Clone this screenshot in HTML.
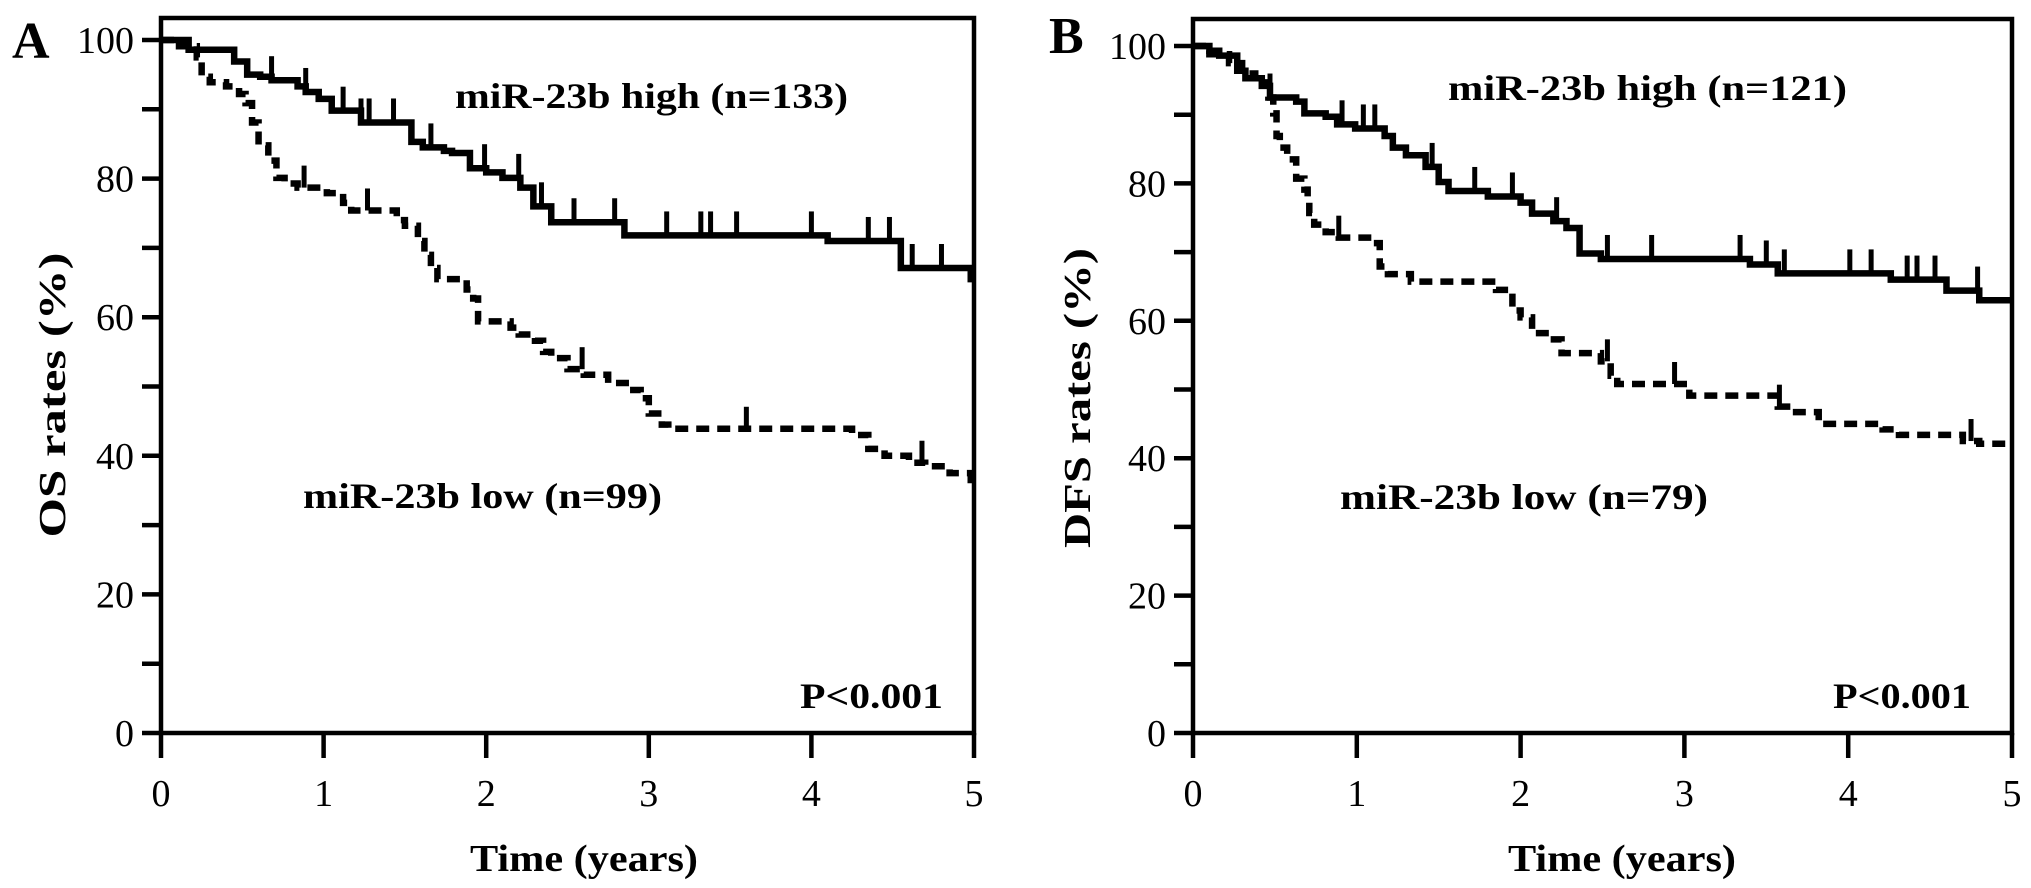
<!DOCTYPE html>
<html><head><meta charset="utf-8"><style>
html,body{margin:0;padding:0;background:#fff;}
svg{display:block;}
text{font-family:"Liberation Serif",serif;fill:#000;}
</style></head><body>
<svg id="chart" width="2031" height="888" viewBox="0 0 2031 888" xmlns="http://www.w3.org/2000/svg">
<g id="panelA"></g>
<g id="panelB"></g>
</svg>
<script>
// Shared tick data
const xTicks = [0, 1, 2, 3, 4, 5];
const yTicksMajor = [0, 20, 40, 60, 80, 100];
const yTicksMinor = [10, 30, 50, 70, 90];

// Panel A (OS) data: step points [time, rate]
const aHighT = [0,0.17,0.23,0.45,0.53,0.61,0.68,0.84,0.89,0.97,1.05,1.12,1.23,1.54,1.61,1.74,1.79,1.90,2.00,2.10,2.21,2.29,2.40,2.85,4.10,4.55,4.98];
const aHighV = [100,98.6,98.6,96.9,95.0,94.7,94.2,93.3,92.5,91.5,89.8,89.8,88.1,85.3,84.5,84.0,83.7,81.5,80.9,80.1,78.7,76,73.7,71.8,71.0,67.1,65.5];
const aHighCens = [0.68,0.89,1.12,1.23,1.28,1.43,1.66,1.99,2.20,2.34,2.54,2.79,3.11,3.32,3.38,3.54,4.0,4.35,4.48,4.62,4.8];
const aLowT = [0,0.09,0.22,0.25,0.30,0.40,0.48,0.52,0.56,0.60,0.66,0.71,0.76,0.84,1.02,1.12,1.17,1.45,1.50,1.58,1.62,1.66,1.70,1.88,1.92,1.95,2.15,2.20,2.30,2.35,2.40,2.50,2.60,2.75,2.88,2.95,3.00,3.08,3.12,4.25,4.35,4.45,4.60,4.70,4.85,4.98];
const aLowV = [100,99.1,97.5,94.7,93.9,93.3,92.2,90.9,88.1,84.8,82.6,80.1,79.3,78.7,77.9,76.5,75.4,74.0,73.2,71.0,69,67.1,65.5,64,62.7,59.4,58.5,57.5,56.6,55,54.1,52.5,51.7,50.5,49.5,48.3,46.1,44.5,43.9,43,41,40,39,38.5,37.5,36.5];
const aLowCens = [0.88,1.27,2.59,3.6,4.68];

// Panel B (DFS) data
const bHighT = [0,0.1,0.16,0.27,0.32,0.42,0.47,0.63,0.68,0.81,0.88,0.99,1.17,1.22,1.30,1.42,1.50,1.56,1.80,2.00,2.07,2.20,2.28,2.36,2.49,3.40,3.57,4.26,4.60,4.80];
const bHighV = [100,99.3,98.6,96.4,95.3,94.2,92.5,91.9,90.2,89.7,88.6,88.0,86.9,85.2,84.1,82.4,80.2,78.9,78.1,77.2,75.6,74.5,73.5,69.8,69.0,68.2,66.9,66.0,64.4,63.0];
const bHighCens = [0.47,0.91,1.04,1.11,1.46,1.72,1.95,2.22,2.53,2.80,3.34,3.50,3.61,4.01,4.14,4.36,4.42,4.53,4.79];
const bLowT = [0,0.1,0.22,0.30,0.38,0.46,0.49,0.51,0.53,0.575,0.63,0.68,0.70,0.71,0.74,0.81,0.89,1.09,1.14,1.19,1.33,1.85,1.95,2.00,2.07,2.18,2.25,2.49,2.55,2.59,3.03,3.57,3.65,3.82,4.21,4.31,4.70,4.80];
const bLowV = [100,98.8,97.5,96,94.7,92.5,90.2,86.9,85.2,83.5,80.7,79.1,77.4,75.7,74.0,72.9,72.1,71.3,67.9,66.8,65.7,64.5,61.5,60.5,58.2,57.3,55.3,54.1,52,50.8,49.1,47.5,46.7,45.0,44.2,43.4,42.5,42.1];
const bLowCens = [0.89,2.53,2.94,3.58,4.75];

const NS = "http://www.w3.org/2000/svg";
function mk(parent, tag, attrs, txt){
  const e = document.createElementNS(NS, tag);
  for (const k in attrs) e.setAttribute(k, attrs[k]);
  if (txt !== undefined) e.textContent = txt;
  parent.appendChild(e);
  return e;
}

function stepPath(T, V, xs, ys){
  let d = "M" + xs(T[0]) + "," + ys(V[0]);
  for (let i = 1; i < T.length; i++){
    d += " H" + xs(T[i]) + " V" + ys(V[i]);
  }
  d += " H" + xs(5);
  return d;
}
function valAt(T, V, t){
  let v = V[0];
  for (let i = 0; i < T.length; i++){ if (T[i] <= t) v = V[i]; }
  return v;
}

function drawPanel(g, cfg){
  const xs = t => cfg.x0 + (cfg.x5 - cfg.x0) * t / 5;
  const ys = v => cfg.y0 - (cfg.y0 - cfg.y100) * v / 100;

  const frame = mk(g, "rect", {x: cfg.x0, y: cfg.top, width: cfg.x5 - cfg.x0, height: cfg.y0 - cfg.top, fill: "none", stroke: "#000", "stroke-width": 4.5});
  
  

  yTicksMajor.concat(yTicksMinor).forEach(v => {
    const l = mk(g, "line", {x1: cfg.x0 - 19, x2: cfg.x0, y1: ys(v), y2: ys(v), stroke: "#000", "stroke-width": 4.5});
    
    
  });
  yTicksMajor.forEach(v => {
    const t = mk(g, "text", {x: cfg.x0 - 27, y: ys(v) + 13, "text-anchor": "end", "font-size": 38}, String(v));
    
    
  });
  xTicks.forEach(v => {
    const l = mk(g, "line", {x1: xs(v), x2: xs(v), y1: cfg.y0, y2: cfg.y0 + 25, stroke: "#000", "stroke-width": 4.5});
    
    
    const t = mk(g, "text", {x: xs(v), y: 806, "text-anchor": "middle", "font-size": 38}, String(v));
    
    
  });

  const xt = mk(g, "text", {x: cfg.xTitleX, y: 871, "text-anchor": "middle", "font-size": 38, "font-weight": "bold", textLength: 228, lengthAdjust: "spacingAndGlyphs"}, "Time (years)");
  
  
  const yt = mk(g, "text", {x: 0, y: 0, "text-anchor": "middle", "font-size": 38, "font-weight": "bold", textLength: cfg.yTitleLen, lengthAdjust: "spacingAndGlyphs", transform: "translate(" + (cfg.yTitleX + 13) + "," + cfg.yTitleY + ") rotate(-90)"}, cfg.yTitle);
  
  

  const pl = mk(g, "text", {x: cfg.letterX, y: cfg.letterY, "font-size": 52, "font-weight": "bold"}, cfg.letter);
  
  

  const hp = mk(g, "path", {d: stepPath(cfg.hT, cfg.hV, xs, ys), fill: "none", stroke: "#000", "stroke-width": 6.5});
  
  
  const lp = mk(g, "path", {d: stepPath(cfg.lT, cfg.lV, xs, ys), fill: "none", stroke: "#000", "stroke-width": 6.5, "stroke-dasharray": "13 8"});
  
  

  cfg.hC.forEach(t => {
    const y = ys(valAt(cfg.hT, cfg.hV, t));
    const c = mk(g, "line", {x1: xs(t), x2: xs(t), y1: y, y2: y - 24, stroke: "#000", "stroke-width": 5});
    
    
  });
  cfg.lC.forEach(t => {
    const y = ys(valAt(cfg.lT, cfg.lV, t));
    const c = mk(g, "line", {x1: xs(t), x2: xs(t), y1: y, y2: y - 22, stroke: "#000", "stroke-width": 5});
    
    
  });

  const hl = mk(g, "text", {x: cfg.hLabX, y: cfg.hLabY, "font-size": 36, "font-weight": "bold", textLength: cfg.hLabW, lengthAdjust: "spacingAndGlyphs"}, cfg.hLab);
  
  
  const ll = mk(g, "text", {x: cfg.lLabX, y: cfg.lLabY, "font-size": 36, "font-weight": "bold", textLength: cfg.lLabW, lengthAdjust: "spacingAndGlyphs"}, cfg.lLab);
  
  
  const pv = mk(g, "text", {x: cfg.pX, y: 708, "font-size": 36, "font-weight": "bold", textLength: cfg.pW, lengthAdjust: "spacingAndGlyphs"}, "P<0.001");
  
  
}

drawPanel(document.getElementById("panelA"), {
  x0: 161, x5: 974, top: 18, y0: 733, y100: 40,
  xTitleX: 584, yTitle: "OS rates (%)", yTitleX: 52, yTitleY: 395, yTitleLen: 285,
  letter: "A", letterX: 12, letterY: 58,
  hT: aHighT, hV: aHighV, hC: aHighCens, lT: aLowT, lV: aLowV, lC: aLowCens,
  hLab: "miR-23b high (n=133)", hLabX: 455, hLabY: 108, hLabW: 393,
  lLab: "miR-23b low (n=99)", lLabX: 303, lLabY: 508, lLabW: 359,
  pX: 800, pW: 143
});
drawPanel(document.getElementById("panelB"), {
  x0: 1193, x5: 2012, top: 19, y0: 733, y100: 46,
  xTitleX: 1622, yTitle: "DFS rates (%)", yTitleX: 1077, yTitleY: 398, yTitleLen: 300,
  letter: "B", letterX: 1049, letterY: 53,
  hT: bHighT, hV: bHighV, hC: bHighCens, lT: bLowT, lV: bLowV, lC: bLowCens,
  hLab: "miR-23b high (n=121)", hLabX: 1448, hLabY: 100, hLabW: 399,
  lLab: "miR-23b low (n=79)", lLabX: 1340, lLabY: 509, lLabW: 368,
  pX: 1833, pW: 138
});
</script>
</body></html>
